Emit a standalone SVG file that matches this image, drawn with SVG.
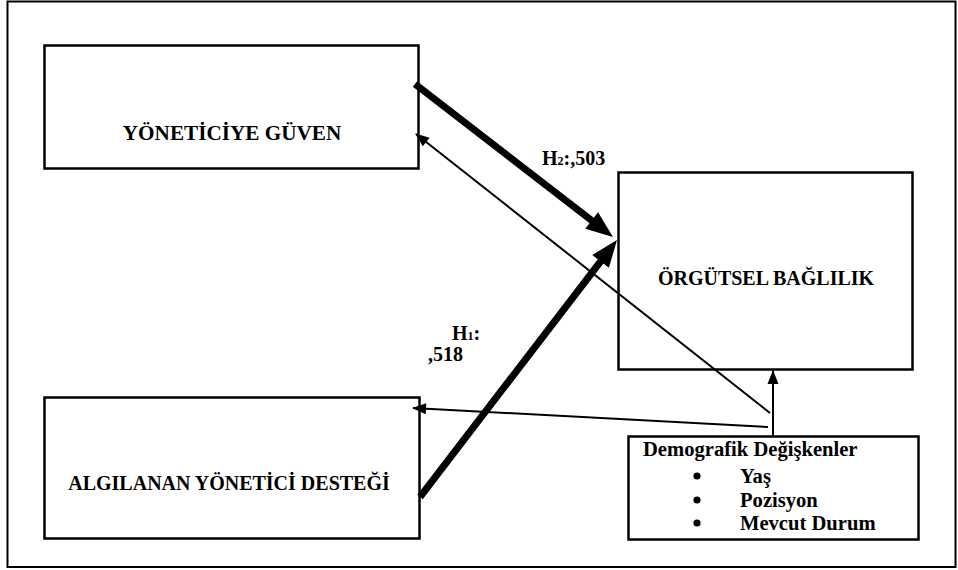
<svg xmlns="http://www.w3.org/2000/svg" width="958" height="570" viewBox="0 0 958 570">
<style>
.box{fill:#fff;stroke:#000;stroke-width:2.5}
.lbl{font-family:"Liberation Serif","Times New Roman",serif;font-weight:bold;font-size:20px;fill:#000}
.dem{font-size:20.6px}
.big{font-size:21.2px}
.thick{stroke:#000;stroke-width:7;fill:none}
.thin{stroke:#000;stroke-width:2;fill:none}
</style>
<defs>
<marker id="bigHead" markerUnits="userSpaceOnUse" viewBox="-6 -12 30 24" refX="0" refY="0" markerWidth="30" markerHeight="24" orient="auto">
<path d="M-5,-10.5 L22,0 L-5,10.5 z" fill="#000"/>
</marker>
<marker id="smallHead" markerUnits="userSpaceOnUse" viewBox="-14 -7 16 14" refX="0" refY="0" markerWidth="16" markerHeight="14" orient="auto">
<path d="M1,0 L-13,-5.5 L-13,5.5 z" fill="#000"/>
</marker>
</defs>
<rect x="0" y="0" width="958" height="570" fill="#fff"/>
<rect x="7.5" y="1.5" width="948" height="565.5" fill="none" stroke="#000" stroke-width="2"/>
<g id="node-yonetici-guven">
<rect class="box" x="44.5" y="45.5" width="374" height="123"/>
<text class="lbl big" x="232" y="140" text-anchor="middle">YÖNETİCİYE GÜVEN</text>
</g>
<g id="node-algilanan">
<rect class="box" x="44.5" y="397.5" width="375" height="141"/>
<text class="lbl" x="229" y="490" text-anchor="middle">ALGILANAN YÖNETİCİ DESTEĞİ</text>
</g>
<g id="node-orgutsel">
<rect class="box" x="618.5" y="172.5" width="294" height="197"/>
<text class="lbl" x="766" y="285" text-anchor="middle">ÖRGÜTSEL BAĞLILIK</text>
</g>
<g id="node-demografik">
<rect class="box" x="628.5" y="436.5" width="290" height="103"/>
<text class="lbl dem" x="643" y="456">Demografik Değişkenler</text>
<circle cx="697" cy="476" r="3.6" fill="#000"/>
<text class="lbl dem" x="740" y="483">Yaş</text>
<circle cx="697" cy="500" r="3.6" fill="#000"/>
<text class="lbl dem" x="740" y="507">Pozisyon</text>
<circle cx="697" cy="523" r="3.6" fill="#000"/>
<text class="lbl dem" x="740" y="530">Mevcut Durum</text>
</g>
<g id="connectors">
<line class="thick" x1="415" y1="84" x2="595.6" y2="223.6" marker-end="url(#bigHead)"/>
<line class="thick" x1="420" y1="497" x2="603.6" y2="257.5" marker-end="url(#bigHead)"/>
<line class="thin" x1="770" y1="413" x2="416" y2="134" marker-end="url(#smallHead)"/>
<line class="thin" x1="768" y1="427" x2="413" y2="408" marker-end="url(#smallHead)"/>
<line class="thin" x1="773" y1="436" x2="773" y2="371" marker-end="url(#smallHead)"/>
<text class="lbl" x="542" y="165">H<tspan font-size="12">2</tspan>:,503</text>
<text class="lbl" x="452" y="340">H<tspan font-size="12">1</tspan>:</text>
<text class="lbl" x="428" y="361">,518</text>
</g>
</svg>
